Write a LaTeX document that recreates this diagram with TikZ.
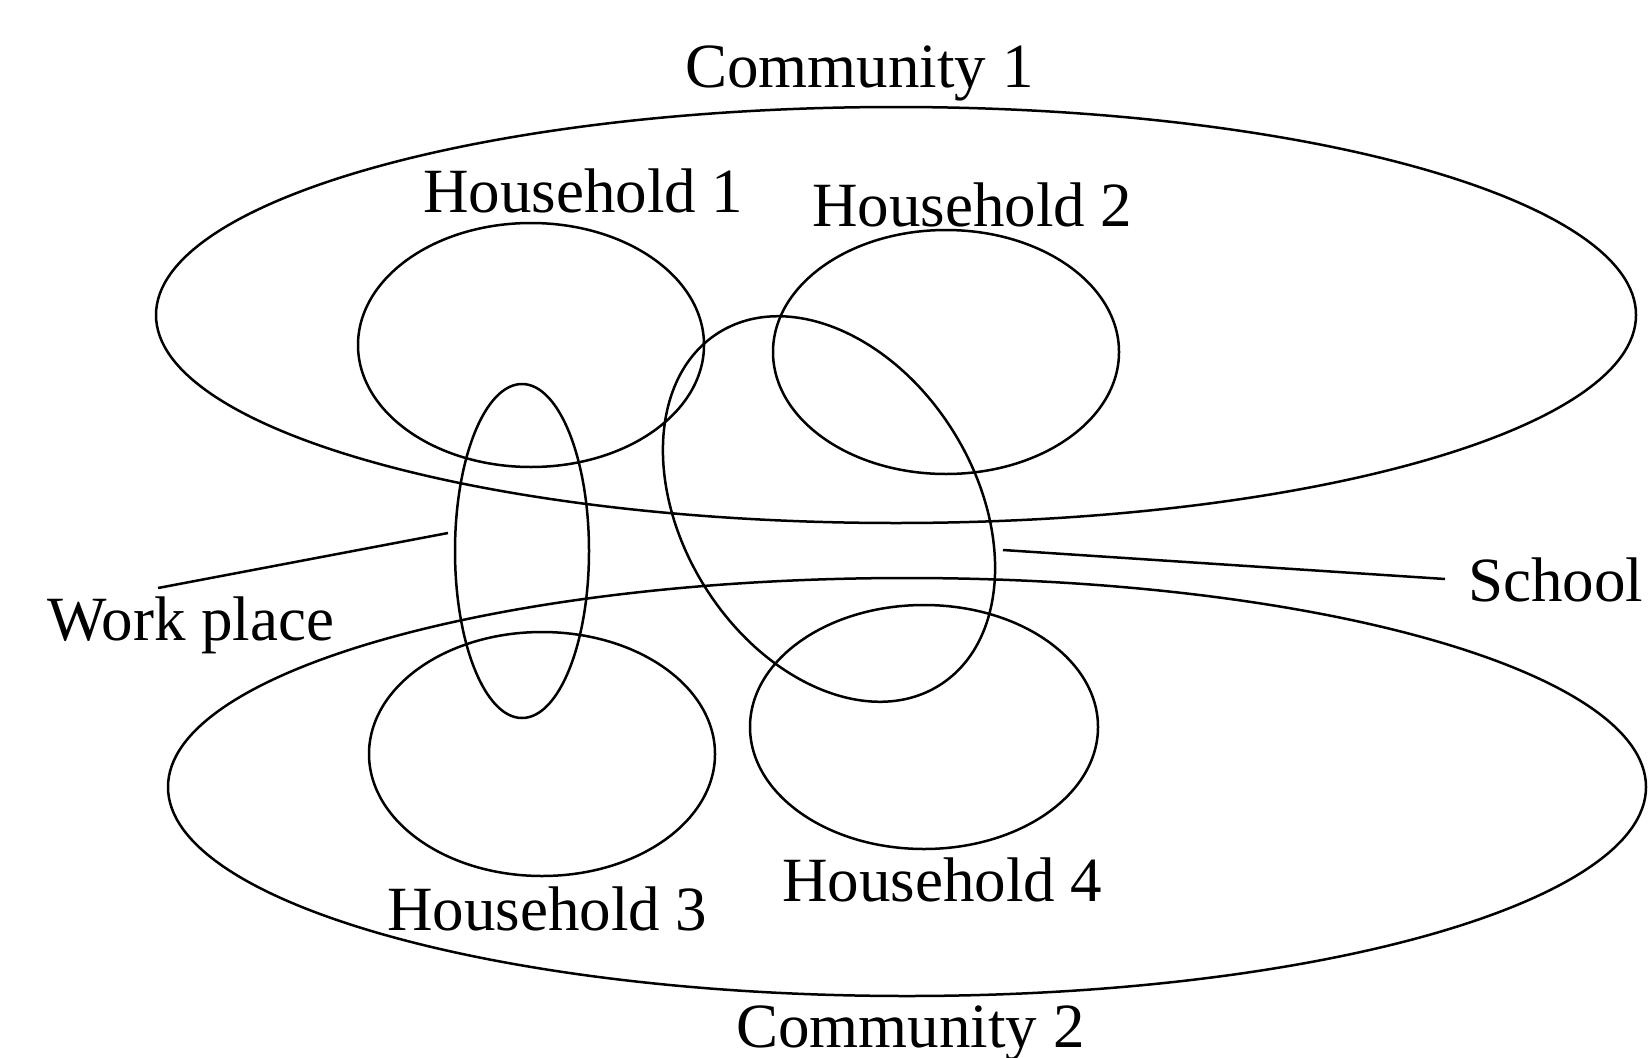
\documentclass[tikz,border=0pt]{standalone}
\usepackage{fontspec}
\setmainfont{Liberation Serif}
\usetikzlibrary{
  shapes.geometric,
}
\tikzstyle{group} = [
ellipse,
draw,
line width=2.5pt,
inner sep=0pt
]
\tikzstyle{caption} = [
anchor=base west,
inner sep=0pt,
font=\fontsize{63}{70}\selectfont
]
\tikzstyle{link} = [draw, line width=2.5pt]

\begin{document}
\begin{tikzpicture}[x=1pt, y=-1pt]
  \useasboundingbox (0,0) rectangle (1648,1057);
  % Place nodes
  \node [group, minimum width=1480pt, minimum height=416pt] (com1) at (896,315) {};
  \node [group, minimum width=1478pt, minimum height=418pt] (com2) at (907,787) {};

  \node [group, minimum width=346pt, minimum height=244pt] (hh1) at (531,345) {};
  \node [group, minimum width=346pt, minimum height=244pt] (hh2) at (946,352) {};
  \node [group, minimum width=346pt, minimum height=244pt] (hh3) at (542,754) {};
  \node [group, minimum width=348pt, minimum height=244pt] (hh4) at (924,727) {};

  \node [group, minimum width=134pt, minimum height=334pt] (work) at (522,551) {};
  \node [group, minimum width=416pt, minimum height=293pt, rotate=-58] (school) at (829,509) {};

  \node [caption] (com1label) at (685,88) {Community 1};
  \node [caption] (hh1label) at (423,212) {Household 1};
  \node [caption] (hh2label) at (812,226) {Household 2};
  \node [caption] (worklabel) at (47,640) {Work place};
  \node [caption] (schoollabel) at (1468,601) {School};
  \node [caption] (hh3label) at (387,930) {Household 3};
  \node [caption] (hh4label) at (782,901) {Household 4};
  \node [caption] (com2label) at (736,1047) {Community 2};

  \coordinate (workfrom) at (158,588);
  \coordinate (workto) at (448,533);
  \coordinate (schoolfrom) at (1003,550);
  \coordinate (schoolto) at (1445,579);

  % Draw edges
  \path [link] (workfrom) -- (workto);
  \path [link] (schoolfrom) -- (schoolto);
\end{tikzpicture}
\end{document}
